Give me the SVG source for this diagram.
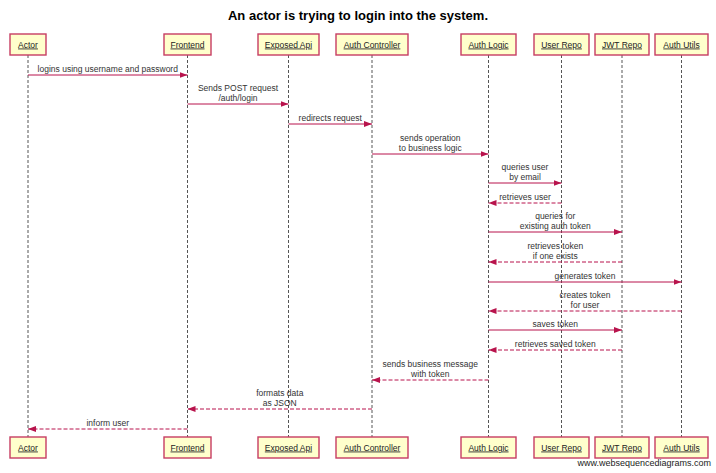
<svg xmlns="http://www.w3.org/2000/svg" width="716" height="473" viewBox="0 0 716 473">
<style>
.box{fill:#ffffcc;stroke:#c73d63;stroke-width:1.4}
.plabel{font-family:"Liberation Sans",Arial,sans-serif;font-size:8.5px;fill:#222;text-anchor:middle;text-decoration:underline}
.life{stroke:#555;stroke-width:1;stroke-dasharray:3,2}
.msg{stroke:#b8134c;stroke-width:1;fill:none}
.dash{stroke-dasharray:4,2}
.mlabel{font-family:"Liberation Sans",Arial,sans-serif;font-size:8.5px;fill:#333;text-anchor:middle}
.title{font-family:"Liberation Sans",Arial,sans-serif;font-size:13px;font-weight:bold;fill:#000;text-anchor:middle}
.wm{font-family:"Liberation Sans",Arial,sans-serif;font-size:9px;fill:#222;text-anchor:end}
</style>
<defs>
<marker id="ah" markerUnits="userSpaceOnUse" markerWidth="9" markerHeight="7" refX="8" refY="3" orient="auto">
<path d="M0,0 L8,3 L0,6 z" fill="#b8134c"/>
</marker>
</defs>
<rect width="716" height="473" fill="#fff"/>
<text class="title" x="358" y="19.5">An actor is trying to login into the system.</text>

<g id="lifelines">
<line class="life" x1="28" y1="55" x2="28" y2="437"/>
<line class="life" x1="187.5" y1="55" x2="187.5" y2="437"/>
<line class="life" x1="288.5" y1="55" x2="288.5" y2="437"/>
<line class="life" x1="372" y1="55" x2="372" y2="437"/>
<line class="life" x1="488.5" y1="55" x2="488.5" y2="437"/>
<line class="life" x1="561.5" y1="55" x2="561.5" y2="437"/>
<line class="life" x1="622" y1="55" x2="622" y2="437"/>
<line class="life" x1="681.5" y1="55" x2="681.5" y2="437"/>
</g>

<g id="actor">
<rect class="box" x="10" y="34" width="36" height="21"/><text class="plabel" x="28" y="47.5">Actor</text>
<rect class="box" x="10" y="437" width="36" height="21"/><text class="plabel" x="28" y="450.5">Actor</text>
</g>
<g id="frontend">
<rect class="box" x="164" y="34" width="47" height="21"/><text class="plabel" x="187.5" y="47.5">Frontend</text>
<rect class="box" x="164" y="437" width="47" height="21"/><text class="plabel" x="187.5" y="450.5">Frontend</text>
</g>
<g id="exposed-api">
<rect class="box" x="258" y="34" width="61" height="21"/><text class="plabel" x="288.5" y="47.5">Exposed Api</text>
<rect class="box" x="258" y="437" width="61" height="21"/><text class="plabel" x="288.5" y="450.5">Exposed Api</text>
</g>
<g id="auth-controller">
<rect class="box" x="336" y="34" width="72" height="21"/><text class="plabel" x="372" y="47.5">Auth Controller</text>
<rect class="box" x="336" y="437" width="72" height="21"/><text class="plabel" x="372" y="450.5">Auth Controller</text>
</g>
<g id="auth-logic">
<rect class="box" x="461" y="34" width="55" height="21"/><text class="plabel" x="488.5" y="47.5">Auth Logic</text>
<rect class="box" x="461" y="437" width="55" height="21"/><text class="plabel" x="488.5" y="450.5">Auth Logic</text>
</g>
<g id="user-repo">
<rect class="box" x="534" y="34" width="55" height="21"/><text class="plabel" x="561.5" y="47.5">User Repo</text>
<rect class="box" x="534" y="437" width="55" height="21"/><text class="plabel" x="561.5" y="450.5">User Repo</text>
</g>
<g id="jwt-repo">
<rect class="box" x="595" y="34" width="54" height="21"/><text class="plabel" x="622" y="47.5">JWT Repo</text>
<rect class="box" x="595" y="437" width="54" height="21"/><text class="plabel" x="622" y="450.5">JWT Repo</text>
</g>
<g id="auth-utils">
<rect class="box" x="655" y="34" width="53" height="21"/><text class="plabel" x="681.5" y="47.5">Auth Utils</text>
<rect class="box" x="655" y="437" width="53" height="21"/><text class="plabel" x="681.5" y="450.5">Auth Utils</text>
</g>

<g id="connectors">
<line class="msg" x1="28" y1="75" x2="187.5" y2="75" marker-end="url(#ah)"/>
<text class="mlabel" x="107.75" y="71.5">logins using username and password</text>

<line class="msg" x1="187.5" y1="104" x2="288.5" y2="104" marker-end="url(#ah)"/>
<text class="mlabel" x="238" y="90.5">Sends POST request</text>
<text class="mlabel" x="238" y="100.5">/auth/login</text>

<line class="msg" x1="288.5" y1="124" x2="372" y2="124" marker-end="url(#ah)"/>
<text class="mlabel" x="330.25" y="120.5">redirects request</text>

<line class="msg" x1="372" y1="154" x2="488.5" y2="154" marker-end="url(#ah)"/>
<text class="mlabel" x="430.25" y="140.5">sends operation</text>
<text class="mlabel" x="430.25" y="150.5">to business logic</text>

<line class="msg" x1="488.5" y1="183" x2="561.5" y2="183" marker-end="url(#ah)"/>
<text class="mlabel" x="525" y="169.5">queries user</text>
<text class="mlabel" x="525" y="179.5">by email</text>

<line class="msg dash" x1="561.5" y1="203" x2="488.5" y2="203" marker-end="url(#ah)"/>
<text class="mlabel" x="525" y="199.5">retrieves user</text>

<line class="msg" x1="488.5" y1="232" x2="622" y2="232" marker-end="url(#ah)"/>
<text class="mlabel" x="555.25" y="218.5">queries for</text>
<text class="mlabel" x="555.25" y="228.5">existing auth token</text>

<line class="msg dash" x1="622" y1="262" x2="488.5" y2="262" marker-end="url(#ah)"/>
<text class="mlabel" x="555.25" y="248.5">retrieves token</text>
<text class="mlabel" x="555.25" y="258.5">if one exists</text>

<line class="msg" x1="488.5" y1="282" x2="681.5" y2="282" marker-end="url(#ah)"/>
<text class="mlabel" x="585" y="278.5">generates token</text>

<line class="msg dash" x1="681.5" y1="311" x2="488.5" y2="311" marker-end="url(#ah)"/>
<text class="mlabel" x="585" y="297.5">creates token</text>
<text class="mlabel" x="585" y="307.5">for user</text>

<line class="msg" x1="488.5" y1="330" x2="622" y2="330" marker-end="url(#ah)"/>
<text class="mlabel" x="555.25" y="326.5">saves token</text>

<line class="msg dash" x1="622" y1="350" x2="488.5" y2="350" marker-end="url(#ah)"/>
<text class="mlabel" x="555.25" y="346.5">retrieves saved token</text>

<line class="msg dash" x1="488.5" y1="380" x2="372" y2="380" marker-end="url(#ah)"/>
<text class="mlabel" x="430.25" y="366.5">sends business message</text>
<text class="mlabel" x="430.25" y="376.5">with token</text>

<line class="msg dash" x1="372" y1="409" x2="187.5" y2="409" marker-end="url(#ah)"/>
<text class="mlabel" x="279.75" y="395.5">formats data</text>
<text class="mlabel" x="279.75" y="405.5">as JSON</text>

<line class="msg dash" x1="187.5" y1="429" x2="28" y2="429" marker-end="url(#ah)"/>
<text class="mlabel" x="107.75" y="425.5">inform user</text>
</g>

<text class="wm" x="711" y="466">www.websequencediagrams.com</text>
</svg>
